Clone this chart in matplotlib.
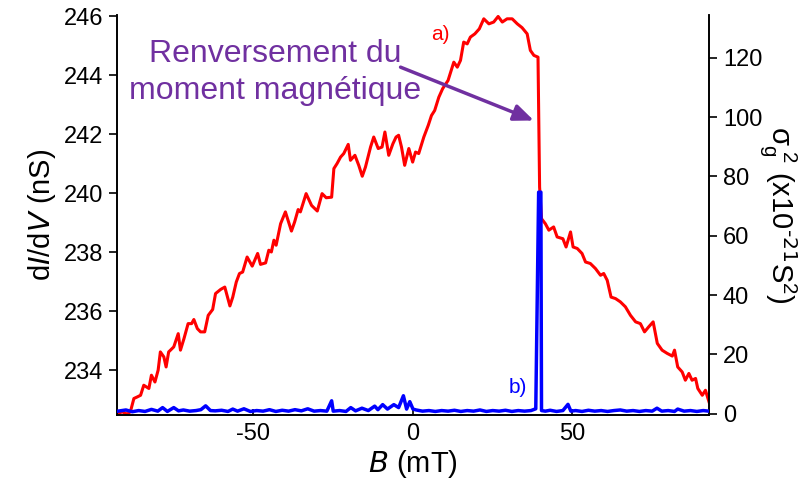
import matplotlib
matplotlib.use("Agg")
import matplotlib.pyplot as plt

# ------------------ data ------------------
# a) differential conductance dI/dV (nS) vs field B (mT)
b_red = [-92.7, -91.2, -89.6, -88.6, -87.5, -86.5, -85.4, -84.4, -82.8, -82.0,
         -80.9, -79.9, -79.2, -78.1, -77.4, -76.6, -75.0, -73.6, -72.9, -71.8,
         -70.5, -69.4, -68.7, -67.6, -66.6, -65.3, -64.2, -62.8, -61.9, -60.3,
         -59.0, -57.4, -56.5, -55.4, -54.4, -53.4, -52.0, -50.4, -48.7, -47.8,
         -46.2, -45.2, -44.4, -43.6, -42.9, -41.5, -40.0, -38.1, -37.1, -36.0,
         -35.3, -33.5, -31.8, -30.0, -28.5, -27.2, -25.5, -24.8, -23.8, -22.7,
         -21.7, -20.3, -19.6, -18.2, -17.0, -15.9, -14.9, -13.3, -12.3, -10.9,
         -9.7, -8.8, -7.6, -6.3, -5.3, -4.5, -3.6, -2.6, -1.3, -0.1,
         0.8, 1.8, 3.4, 4.8, 5.8, 6.8, 8.1, 9.3, 11.0, 12.8,
         13.9, 14.9, 15.9, 17.0, 18.0, 19.4, 20.8, 22.2, 23.8, 25.3,
         26.7, 28.0, 29.5, 31.1, 32.7, 34.2, 35.8, 36.8, 37.9, 39.2,
         39.7, 40.3, 41.5, 42.6, 44.1, 45.2, 47.0, 48.0, 49.4, 50.2,
         51.5, 53.0, 54.1, 55.6, 57.2, 58.8, 59.8, 60.9, 62.1, 63.5,
         65.0, 66.6, 68.2, 69.8, 71.3, 72.6, 73.9, 75.3, 76.6, 78.1,
         79.7, 81.3, 82.0, 83.0, 84.4, 85.4, 86.5, 87.5, 88.6, 89.3,
         90.7, 91.7, 92.8]
g_red = [232.51, 232.59, 232.51, 232.59, 233.04, 233.09, 233.15, 233.49, 233.38, 233.83,
         233.60, 234.00, 234.62, 234.45, 234.11, 234.62, 234.79, 235.24, 234.68, 235.07,
         235.58, 235.58, 235.72, 235.41, 235.30, 235.30, 235.86, 236.06, 236.60, 236.74,
         236.82, 236.18, 236.48, 236.99, 237.28, 237.33, 237.84, 237.53, 237.96, 237.59,
         237.64, 238.07, 238.01, 238.41, 238.24, 238.97, 239.37, 238.72, 239.03, 239.45,
         239.37, 239.99, 239.59, 239.40, 239.99, 239.85, 239.87, 240.84, 241.01, 241.23,
         241.35, 241.66, 241.12, 241.29, 240.95, 240.58, 240.89, 241.57, 241.91, 241.52,
         241.57, 242.08, 241.29, 241.68, 241.91, 241.97, 241.57, 240.95, 241.52, 241.06,
         241.40, 241.35, 241.91, 242.31, 242.64, 242.81, 243.26, 243.55, 243.83, 244.45,
         244.28, 244.51, 245.13, 245.07, 245.30, 245.41, 245.58, 245.92, 245.75, 245.81,
         246.00, 245.81, 245.92, 245.92, 245.75, 245.62, 245.41, 244.85, 244.68, 244.62,
         240.21, 239.14, 238.97, 238.75, 238.86, 238.52, 238.46, 238.18, 238.69, 238.18,
         238.13, 237.96, 237.67, 237.62, 237.45, 237.22, 237.28, 237.05, 236.48, 236.43,
         236.32, 236.15, 235.86, 235.64, 235.58, 235.30, 235.47, 235.64, 234.91, 234.68,
         234.57, 234.48, 234.68, 234.11, 233.94, 233.66, 233.89, 233.66, 233.72, 233.38,
         233.15, 233.32, 232.93]

# b) conductance noise variance sigma_g^2 (x1e-21 S^2) vs B (mT)
b_blue = [-92.5, -90.0, -88.0, -86.0, -84.0, -82.0, -80.0, -78.5, -77.0, -75.0,
          -73.5, -72.0, -70.0, -68.0, -66.5, -65.0, -63.5, -62.0, -60.0, -58.0,
          -56.5, -55.0, -53.0, -51.0, -49.0, -47.0, -45.0, -43.0, -41.0, -39.0,
          -37.0, -35.0, -33.0, -31.0, -29.0, -27.0, -25.5, -25.0, -23.0, -21.0,
          -19.5, -18.0, -16.0, -14.0, -12.0, -11.0, -9.5, -8.0, -6.0, -4.5,
          -3.0, -2.0, -1.0, 0.0, 1.0, 3.0, 5.0, 7.0, 9.0, 11.0,
          13.0, 15.0, 17.0, 19.0, 21.0, 23.0, 25.0, 27.0, 29.0, 31.0,
          33.0, 35.0, 37.0, 38.5, 39.4, 39.6, 40.1, 40.3, 41.5, 43.0,
          45.0, 47.0, 48.6, 49.5, 51.0, 53.0, 55.0, 57.0, 59.0, 61.0,
          63.0, 65.0, 67.0, 69.0, 71.0, 73.0, 75.0, 76.5, 78.0, 80.0,
          82.0, 83.0, 85.0, 87.0, 89.0, 91.0, 92.8]
s_blue = [0.8, 1.2, 0.6, 1.0, 0.7, 1.4, 0.8, 2.0, 0.7, 2.0,
          0.9, 1.2, 0.8, 1.0, 1.3, 2.6, 1.0, 0.9, 1.1, 0.7,
          1.5, 0.8, 1.6, 0.7, 1.0, 0.8, 1.3, 0.7, 1.1, 0.8,
          1.3, 0.9, 1.6, 0.8, 1.0, 0.8, 4.3, 0.8, 1.0, 0.7,
          2.0, 0.9, 1.8, 1.0, 2.5, 1.3, 3.0, 1.5, 3.0, 2.0,
          6.0, 1.5, 4.0, 1.5, 1.2, 0.8, 1.0, 0.7, 1.0, 0.8,
          1.1, 0.7, 1.0, 0.8, 1.2, 0.7, 1.0, 0.8, 1.1, 0.7,
          1.0, 0.8, 1.0, 1.6, 74.7, 74.7, 74.7, 1.0, 0.8, 1.1,
          0.7, 1.0, 3.1, 0.8, 1.0, 0.7, 1.1, 0.8, 1.0, 0.7,
          1.0, 1.2, 0.8, 1.0, 0.7, 1.0, 0.8, 1.8, 0.8, 1.0,
          0.7, 1.5, 0.8, 1.0, 0.7, 1.0, 0.8]

# ------------------ plotting ------------------
plt.rcParams.update({
    "font.family": ["Liberation Sans", "DejaVu Sans"],
    "mathtext.default": "regular",
    "axes.unicode_minus": False,
    "axes.linewidth": 1.2,
})

purple = "#7030A0"

fig = plt.figure(figsize=(8.04, 4.93), dpi=100)
ax = fig.add_axes([0.1455, 0.1582, 0.7363, 0.8114])
ax2 = ax.twinx()

ax.plot(b_red, g_red, color="red", lw=2.2, zorder=2)
ax2.plot(b_blue, s_blue, color="blue", lw=2.5, zorder=3)

ax.set_xlim(-92.8, 92.8)
ax.set_ylim(232.48, 246.05)
ax2.set_ylim(-0.5, 134.5)

ax.set_xticks([-50, 0, 50])
ax.set_yticks([234, 236, 238, 240, 242, 244, 246])
ax2.set_yticks([0, 20, 40, 60, 80, 100, 120])

for a in (ax, ax2):
    a.spines["top"].set_visible(False)
ax.tick_params(axis="y", direction="out", length=6, width=1.2, labelsize=17, pad=4)
ax.tick_params(axis="x", direction="in", length=4, width=1.2, labelsize=17, pad=6)
ax2.tick_params(axis="y", direction="out", length=6, width=1.2, labelsize=17, pad=4)

ax.set_xlabel("$\\it{B}$ (mT)", fontsize=21, labelpad=2)
ax.set_ylabel("d$\\it{I}$/d$\\it{V}$ (nS)", fontsize=21, labelpad=4)
ax2.set_ylabel("σ$_g^{\\ 2}$ (x10$^{\\text{-21}}$S$^2$)", fontsize=21,
               rotation=270, labelpad=26)

ax.text(8.6, 245.4, "a)", color="red", fontsize=15, ha="center", va="center")
ax.text(33.0, 233.4, "b)", color="blue", fontsize=15, ha="center", va="center")

ax.text(-43.3, 244.44, "Renversement du", color=purple, fontsize=23,
        ha="center", va="baseline")
ax.text(-43.3, 243.20, "moment magnétique", color=purple, fontsize=23,
        ha="center", va="baseline")
ax.annotate("", xy=(37.9, 242.47), xytext=(-3.9, 244.28),
            arrowprops=dict(arrowstyle="-|>,head_length=1.2,head_width=0.5",
                            color=purple, lw=2.5, shrinkA=0, shrinkB=0))

fig.savefig("out.png", dpi=100)
